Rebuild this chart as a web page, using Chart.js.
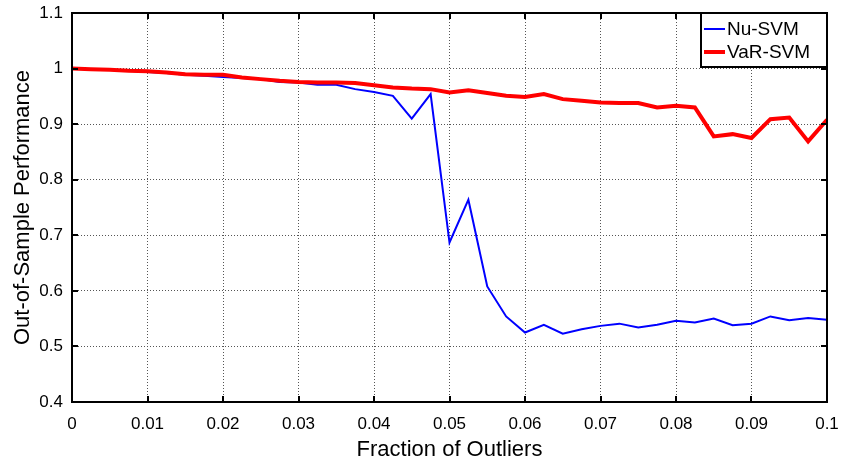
<!DOCTYPE html>
<html>
<head>
<meta charset="utf-8">
<script src="https://cdn.jsdelivr.net/npm/chart.js@4/dist/chart.umd.min.js"></script>
<style>
  html, body { margin: 0; padding: 0; background: #fff; }
  #wrap { width: 841px; height: 463px; }
</style>
</head>
<body>
<div id="wrap"><canvas id="chartOutliers" width="841" height="463"></canvas></div>
<script>
const fracciones = [
  0, 0.0025, 0.005, 0.0075, 0.01, 0.0125, 0.015, 0.0175, 0.02, 0.0225,
  0.025, 0.0275, 0.03, 0.0325, 0.035, 0.0375, 0.04, 0.0425, 0.045, 0.0475,
  0.05, 0.0525, 0.055, 0.0575, 0.06, 0.0625, 0.065, 0.0675, 0.07, 0.0725,
  0.075, 0.0775, 0.08, 0.0825, 0.085, 0.0875, 0.09, 0.0925, 0.095, 0.0975,
  0.1,
];
const nuSvm = [
  1.0, 0.999, 0.998, 0.996, 0.994, 0.992, 0.989, 0.987, 0.985, 0.983,
  0.981, 0.976, 0.975, 0.971, 0.971, 0.963, 0.958, 0.951, 0.91, 0.954,
  0.687, 0.764, 0.608, 0.554, 0.525, 0.539, 0.523, 0.531, 0.537, 0.541,
  0.534, 0.539, 0.546, 0.543, 0.55, 0.538, 0.541, 0.554, 0.547, 0.551,
  0.548,
];
const varSvm = [
  1.0, 0.999, 0.998, 0.996, 0.995, 0.993, 0.99, 0.989, 0.989, 0.984,
  0.981, 0.978, 0.976, 0.975, 0.975, 0.974, 0.97, 0.966, 0.964, 0.963,
  0.957, 0.961, 0.956, 0.951, 0.949, 0.954, 0.945, 0.942, 0.939, 0.938,
  0.938, 0.93, 0.933, 0.93, 0.878, 0.882, 0.875, 0.909, 0.912, 0.869,
  0.908,
];
const xTicks = [0, 0.01, 0.02, 0.03, 0.04, 0.05, 0.06, 0.07, 0.08, 0.09, 0.1];
const xTickLabels = ['0', '0.01', '0.02', '0.03', '0.04', '0.05', '0.06', '0.07', '0.08', '0.09', '0.1'];
const yTicks = [0.4, 0.5, 0.6, 0.7, 0.8, 0.9, 1.0, 1.1];
const yTickLabels = ['0.4', '0.5', '0.6', '0.7', '0.8', '0.9', '1', '1.1'];

const FONT = "'Liberation Sans', Arial, sans-serif";

// marco negro, ticks hacia dentro y leyenda tipo matlab
const marcoPlugin = {
  id: 'marco',
  afterDatasetsDraw(chart) {
    const { ctx, chartArea: a, scales } = chart;
    ctx.save();
    ctx.strokeStyle = '#000';
    ctx.lineWidth = 2;
    ctx.beginPath();
    xTicks.forEach((v) => {
      const px = Math.round(scales.x.getPixelForValue(v));
      ctx.moveTo(px, a.bottom); ctx.lineTo(px, a.bottom - 6);
      ctx.moveTo(px, a.top); ctx.lineTo(px, a.top + 6);
    });
    yTicks.forEach((v) => {
      const py = Math.round(scales.y.getPixelForValue(v));
      ctx.moveTo(a.left, py); ctx.lineTo(a.left + 6, py);
      ctx.moveTo(a.right, py); ctx.lineTo(a.right - 6, py);
    });
    ctx.stroke();
    ctx.strokeRect(a.left, a.top, a.right - a.left, a.bottom - a.top);

    // leyenda
    const bx = a.right - 126;
    const by = a.top;
    const bw = 126;
    const bh = 54;
    ctx.fillStyle = '#fff';
    ctx.fillRect(bx, by, bw, bh);
    ctx.strokeRect(bx, by, bw, bh);
    const items = [chart.data.datasets[0], chart.data.datasets[1]];
    ctx.font = `19px ${FONT}`;
    ctx.textBaseline = 'middle';
    items.forEach((d, i) => {
      const y = by + 16 + i * 23;
      ctx.strokeStyle = d.borderColor;
      ctx.lineWidth = d.borderWidth;
      ctx.beginPath();
      ctx.moveTo(bx + 3, y); ctx.lineTo(bx + 24, y);
      ctx.stroke();
      ctx.fillStyle = '#000';
      ctx.fillText(d.label, bx + 26, y + 1);
    });
    ctx.restore();
  },
};

const ctx = document.getElementById('chartOutliers').getContext('2d');
// eslint-disable-next-line no-undef
const chartInstance = new Chart(ctx, {
  type: 'line',
  data: {
    labels: fracciones,
    datasets: [
      {
        label: 'Nu-SVM',
        data: fracciones.map((x, i) => ({ x, y: nuSvm[i] })),
        borderColor: '#0000ff',
        borderWidth: 2,
        pointRadius: 0,
        tension: 0,
        order: 2,
      },
      {
        label: 'VaR-SVM',
        data: fracciones.map((x, i) => ({ x, y: varSvm[i] })),
        borderColor: '#ff0000',
        borderWidth: 4,
        pointRadius: 0,
        tension: 0,
        order: 1,
      },
    ],
  },
  options: {
    responsive: false,
    animation: false,
    layout: { padding: { top: 13, right: 14, left: 0, bottom: 0 } },
    plugins: { legend: { display: false }, tooltip: { enabled: false } },
    scales: {
      x: {
        type: 'linear',
        min: 0,
        max: 0.1,
        afterBuildTicks: (axis) => { axis.ticks = xTicks.map((value) => ({ value })); },
        afterFit: (axis) => {
          axis.height = 61;
          axis.paddingLeft = 0;
          axis.paddingRight = 0;
        },
        ticks: {
          callback: (v, i) => xTickLabels[i],
          color: '#000',
          font: { family: FONT, size: 17 },
          padding: 12,
          maxRotation: 0,
        },
        grid: { color: '#555', lineWidth: 1, drawTicks: false },
        border: { display: false, dash: [1, 2] },
        title: {
          display: true,
          text: 'Fraction of Outliers',
          color: '#000',
          font: { family: FONT, size: 22 },
          padding: { top: 3, bottom: 0 },
        },
      },
      y: {
        min: 0.4,
        max: 1.1,
        afterBuildTicks: (axis) => { axis.ticks = yTicks.map((value) => ({ value })); },
        afterFit: (axis) => {
          axis.width = 72;
          axis.paddingTop = 0;
          axis.paddingBottom = 0;
        },
        ticks: {
          callback: (v, i) => yTickLabels[i],
          color: '#000',
          font: { family: FONT, size: 17 },
          padding: 9,
        },
        grid: { color: '#555', lineWidth: 1, drawTicks: false },
        border: { display: false, dash: [1, 2] },
        title: {
          display: true,
          text: 'Out-of-Sample Performance',
          color: '#000',
          font: { family: FONT, size: 22, lineHeight: 1.55 },
          padding: { top: 6, bottom: 4 },
        },
      },
    },
  },
  plugins: [marcoPlugin],
});
</script>
</body>
</html>
